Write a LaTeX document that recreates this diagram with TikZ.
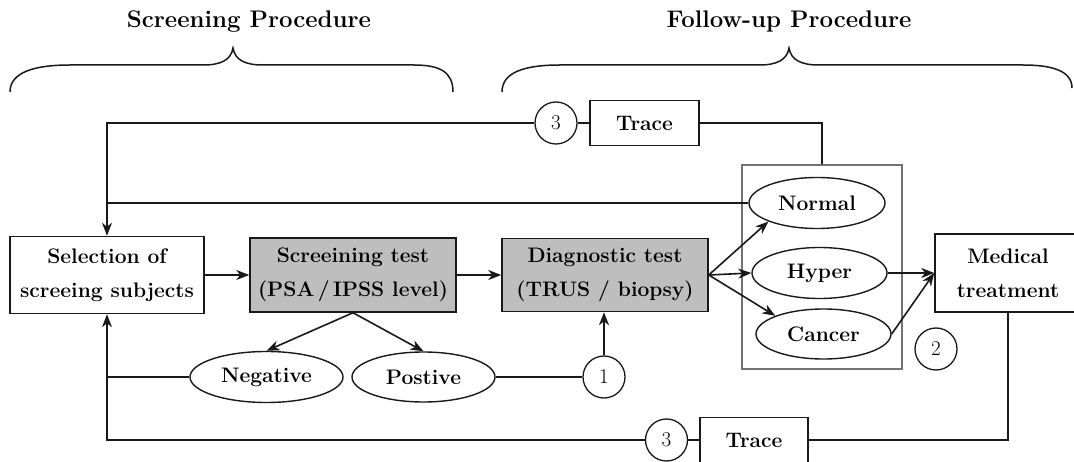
\documentclass[tikz,border=0pt]{standalone}
\usetikzlibrary{shapes.geometric,arrows.meta}
\definecolor{boxgray}{RGB}{190,190,190}
\definecolor{linec}{RGB}{25,25,25}
\definecolor{grpc}{RGB}{115,115,115}
\tikzset{
  txt/.style={font=\fontsize{21}{34}\selectfont\bfseries, align=center, text=black},
  stepbox/.style={txt, draw=linec, line width=1.5pt, rectangle, inner sep=0pt},
  graybox/.style={stepbox, fill=boxgray},
  oval/.style={txt, draw=linec, line width=1.4pt, ellipse, inner sep=0pt},
  numc/.style={draw=linec, line width=1.3pt, circle, inner sep=0pt, minimum size=42pt, font=\fontsize{21}{24}\selectfont, text=black},
  conn/.style={draw=linec, line width=1.6pt},
  arr/.style={conn, -{Stealth[length=13pt,width=10pt,inset=4pt]}},
  title/.style={font=\fontsize{24}{28}\selectfont\bfseries, text=black},
  bracec/.style={draw=linec, line width=1.5pt}
}
\begin{document}
\begin{tikzpicture}[x=1pt,y=-1pt]
\useasboundingbox (0,0) rectangle (1074,462);
\clip (0,0) rectangle (1074,462);

% titles
\node[title] (t1) at (249,22) {Screening Procedure};
\node[title] (t2) at (789,22) {Follow-up Procedure};

% braces
\draw[bracec] (10,92) .. controls (10,72) and (35,65) .. (70,65) -- (203,65)
  .. controls (221,65) and (231,60) .. (233,48)
  .. controls (235,60) and (245,65) .. (263,65) -- (414,65)
  .. controls (440,65) and (453,72) .. (453,92);
\draw[bracec] (502,92) .. controls (502,72) and (525,65) .. (560,65) -- (759,65)
  .. controls (777,65) and (787,60) .. (789,48)
  .. controls (791,60) and (801,65) .. (819,65) -- (1023,65)
  .. controls (1050,65) and (1072,70) .. (1072,88);

% group rectangle
\node[draw=grpc, line width=1.1pt, rectangle, minimum width=160pt, minimum height=204pt, inner sep=0pt] (grp) at (822,267) {};

% main boxes
\node[stepbox, minimum width=194pt, minimum height=77pt] (sel) at (107,275) {Selection of\\screeing subjects};
\node[graybox, minimum width=206pt, minimum height=74pt] (scr) at (353,275) {Screeining test\\(PSA\,/\,IPSS level)};
\node[graybox, minimum width=206pt, minimum height=73pt] (diag) at (605,275) {Diagnostic test\\(TRUS / biopsy)};
\node[stepbox, minimum width=146pt, minimum height=78pt] (med) at (1008,273) {Medical\\treatment};

% ellipses
\node[oval, minimum width=136pt, minimum height=51pt] (normal) at (817,203) {Normal};
\node[oval, minimum width=135pt, minimum height=51pt] (hyper) at (819.5,273) {Hyper};
\node[oval, minimum width=135pt, minimum height=50pt] (cancer) at (823.5,334) {Cancer};
\node[oval, minimum width=153pt, minimum height=51pt] (neg) at (266.5,377) {Negative};
\node[oval, minimum width=143pt, minimum height=50pt] (pos) at (423.5,377) {Postive};

% numbered circles
\node[numc] (c1) at (604,377) {1};
\node[numc] (c2) at (936,349) {2};
\node[numc] (c3t) at (556,123) {3};
\node[numc] (c3b) at (666.5,440) {3};

% trace boxes
\node[stepbox, minimum width=109pt, minimum height=45pt] (trt) at (644.5,123) {Trace};
\node[stepbox, minimum width=108pt, minimum height=45pt] (trb) at (754,440) {Trace};

% junction coordinates
\coordinate (jn) at (sel.north |- normal.west);
\coordinate (jneg) at (sel.south |- neg.west);

% main flow
\draw[arr] (sel.east) -- (scr.west);
\draw[arr] (scr.east) -- (diag.west);
\draw[arr] (scr.south) -- (neg.north);
\draw[arr] (scr.south) -- (pos.north);
\draw[conn] (pos.east) -- (c1.west);
\draw[arr] (c1.north) -- (c1.north |- diag.south);

\draw[arr] (diag.east) -- (normal.south west);
\draw[arr] (diag.east) -- (hyper.west);
\draw[arr] (diag.east) -- (cancer.north west);
\draw[arr] (hyper.east) -- (med.west);
\draw[arr] (cancer.east) -- (med.west);

% feedback top
\draw[conn] (grp.north) |- (trt.east);
\draw[conn] (trt.west) -- (c3t.east);
\draw[arr] (c3t.west) -| (sel.north);
\draw[conn] (normal.west) -- (jn);

% feedback bottom
\draw[conn] (med.south) |- (trb.east);
\draw[conn] (trb.west) -- (c3b.east);
\draw[arr] (c3b.west) -| (sel.south);
\draw[conn] (neg.west) -- (jneg);
\end{tikzpicture}
\end{document}
